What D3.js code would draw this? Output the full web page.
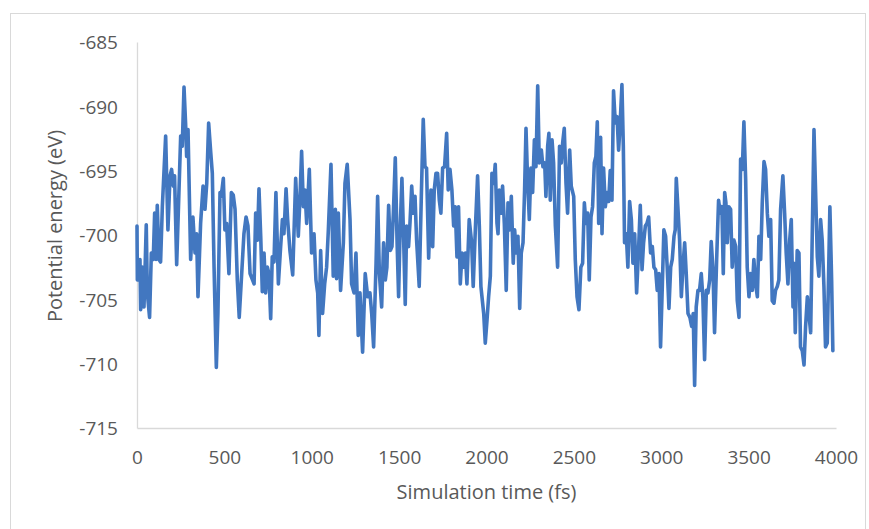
<!DOCTYPE html>
<html>
<head>
<meta charset="utf-8">
<script src="https://cdn.jsdelivr.net/npm/d3@7"></script>
<style>
  body { margin: 0; background: #fff; }
  svg { display: block; }
</style>
</head>
<body>
<div></div>
<script>
// simulation time (fs) at each corner of the trace
const times = [
  0, 2, 17, 21, 30, 40, 53, 59, 72, 82, 93, 101, 109, 116, 126, 135, 145, 164, 177, 189,
  198, 208, 215, 227, 250, 259, 269, 278, 284, 292, 307, 320, 332, 341, 349, 364, 378, 389, 399, 410,
  422, 431, 441, 454, 463, 475, 482, 494, 503, 513, 526, 540, 551, 561, 574, 585, 597, 612, 624, 635,
  647, 670, 679, 689, 698, 708, 717, 727, 736, 746, 755, 765, 774, 784, 795, 809, 822, 832, 841, 853,
  862, 875, 891, 908, 923, 933, 942, 952, 961, 971, 986, 999, 1013, 1024, 1034, 1041, 1051, 1062, 1074, 1085,
  1095, 1110, 1123, 1135, 1142, 1152, 1165, 1181, 1190, 1203, 1219, 1228, 1242, 1253, 1266, 1276, 1291, 1306, 1320, 1333,
  1343, 1354, 1368, 1377, 1387, 1400, 1411, 1421, 1430, 1440, 1450, 1459, 1467, 1478, 1488, 1497, 1505, 1516, 1526, 1535,
  1543, 1554, 1562, 1572, 1581, 1591, 1600, 1615, 1627, 1638, 1648, 1657, 1669, 1682, 1692, 1701, 1711, 1720, 1730, 1739,
  1749, 1760, 1772, 1781, 1791, 1802, 1812, 1821, 1831, 1840, 1850, 1860, 1869, 1879, 1888, 1901, 1915, 1924, 1936, 1949,
  1959, 1968, 1984, 1993, 2003, 2012, 2022, 2031, 2041, 2050, 2060, 2066, 2073, 2083, 2092, 2102, 2113, 2123, 2132, 2142,
  2153, 2161, 2171, 2180, 2190, 2199, 2209, 2218, 2226, 2235, 2245, 2254, 2264, 2274, 2283, 2293, 2302, 2314, 2323, 2333,
  2340, 2350, 2357, 2365, 2375, 2384, 2394, 2407, 2418, 2428, 2436, 2445, 2455, 2464, 2476, 2485, 2499, 2508, 2518, 2529,
  2540, 2550, 2560, 2569, 2579, 2588, 2598, 2607, 2617, 2626, 2634, 2642, 2653, 2661, 2670, 2680, 2689, 2699, 2708, 2718,
  2727, 2737, 2747, 2756, 2766, 2775, 2783, 2790, 2800, 2809, 2819, 2829, 2838, 2848, 2859, 2870, 2880, 2890, 2899, 2909,
  2918, 2928, 2939, 2949, 2958, 2968, 2977, 2987, 2996, 3006, 3015, 3025, 3034, 3044, 3054, 3063, 3073, 3080, 3086, 3095,
  3105, 3115, 3124, 3134, 3143, 3153, 3164, 3174, 3183, 3191, 3200, 3210, 3219, 3229, 3238, 3248, 3258, 3267, 3277, 3286,
  3296, 3305, 3317, 3328, 3338, 3347, 3355, 3363, 3370, 3378, 3386, 3397, 3406, 3416, 3426, 3435, 3445, 3454, 3464, 3473,
  3483, 3492, 3502, 3511, 3521, 3530, 3540, 3550, 3559, 3569, 3578, 3588, 3597, 3607, 3616, 3626, 3635, 3645, 3654, 3664,
  3673, 3683, 3696, 3706, 3715, 3725, 3735, 3744, 3754, 3759, 3767, 3778, 3788, 3797, 3807, 3817, 3826, 3836, 3845, 3855,
  3864, 3874, 3883, 3893, 3902, 3912, 3921, 3931, 3940, 3950, 3965, 3975, 3982
];

// potential energy (eV)
const energies = [
  -699.3, -703.5, -701.9, -705.8, -702.5, -705.6, -699.2, -704.5, -706.4, -701.4, -701.9, -698.3, -701.9, -697.7, -701.9, -702.1, -697.8, -692.3, -699.6, -695.4,
  -694.9, -696.2, -695.4, -702.3, -692.3, -693.1, -688.5, -691.3, -693.9, -691.8, -701.9, -698.6, -701.4, -699.9, -704.8, -699.1, -696.2, -698.0, -696.0, -691.3,
  -693.6, -695.2, -702.5, -710.3, -706.1, -696.7, -697.0, -695.6, -699.6, -699.1, -703.0, -696.7, -696.9, -698.0, -703.5, -706.4, -703.5, -699.9, -698.6, -699.3,
  -703.0, -703.8, -698.3, -700.4, -696.4, -700.1, -704.4, -701.4, -704.5, -702.5, -703.0, -706.5, -701.7, -702.1, -696.7, -703.8, -700.9, -698.8, -699.9, -696.4,
  -698.8, -701.2, -703.1, -695.6, -700.1, -697.0, -693.5, -697.8, -696.5, -699.1, -694.9, -701.4, -699.9, -703.5, -704.5, -707.8, -701.2, -706.1, -703.8, -702.5,
  -699.6, -694.5, -703.2, -698.0, -703.4, -698.3, -704.3, -700.6, -696.0, -694.5, -698.8, -703.8, -704.5, -701.4, -707.8, -704.5, -709.1, -703.0, -704.8, -704.5,
  -706.1, -708.7, -702.2, -697.0, -703.0, -705.6, -700.6, -703.5, -702.5, -697.7, -701.2, -700.9, -698.3, -694.0, -700.4, -704.8, -699.9, -695.6, -700.4, -705.4,
  -699.3, -700.9, -699.1, -696.2, -698.3, -697.0, -700.4, -704.0, -697.0, -691.0, -694.7, -694.8, -701.8, -696.5, -700.9, -696.5, -695.2, -695.2, -697.3, -698.3,
  -694.8, -694.7, -692.1, -696.5, -694.9, -696.5, -699.3, -697.8, -701.7, -697.8, -703.8, -701.4, -702.5, -701.4, -703.8, -698.8, -700.6, -704.0, -699.6, -695.4,
  -699.3, -704.0, -706.1, -708.4, -706.6, -704.8, -703.2, -695.2, -696.0, -694.5, -699.1, -699.9, -696.5, -698.3, -696.2, -699.1, -704.3, -697.5, -699.6, -697.0,
  -702.2, -699.6, -701.4, -700.1, -705.7, -701.4, -700.6, -696.5, -691.7, -695.7, -698.8, -694.8, -696.7, -692.6, -694.7, -688.4, -694.4, -693.4, -694.7, -694.4,
  -697.0, -693.1, -692.1, -697.3, -692.6, -694.4, -699.3, -702.5, -693.1, -694.4, -692.8, -691.7, -696.0, -698.3, -693.4, -696.2, -697.0, -701.9, -704.8, -705.8,
  -702.5, -702.2, -697.5, -699.1, -698.3, -703.5, -698.6, -697.8, -694.4, -693.9, -691.2, -699.1, -692.4, -699.9, -694.8, -697.8, -696.7, -697.4, -695.0, -697.3,
  -688.8, -691.3, -690.8, -693.4, -691.0, -688.3, -693.1, -700.6, -699.9, -702.5, -697.4, -698.8, -702.2, -699.9, -704.5, -701.2, -697.7, -702.7, -700.6, -699.3,
  -699.1, -698.6, -701.4, -700.9, -702.5, -702.7, -704.3, -703.0, -708.7, -704.0, -699.6, -700.1, -702.5, -705.7, -702.5, -701.9, -700.1, -699.6, -695.6, -697.8,
  -700.4, -704.8, -702.5, -700.6, -703.0, -706.1, -706.4, -707.1, -706.1, -711.7, -705.6, -704.3, -704.3, -703.0, -704.8, -709.7, -704.3, -704.5, -703.5, -700.5,
  -702.7, -707.6, -701.9, -697.3, -698.3, -697.8, -703.0, -696.7, -697.5, -700.6, -697.8, -698.0, -702.5, -700.4, -700.9, -705.1, -706.4, -694.1, -694.9, -691.2,
  -695.7, -702.5, -704.8, -703.0, -704.3, -701.9, -703.8, -704.8, -700.1, -701.9, -697.5, -694.3, -694.9, -698.3, -700.1, -698.8, -705.1, -705.3, -704.3, -704.0,
  -703.5, -698.0, -695.4, -698.3, -701.4, -703.8, -700.4, -698.8, -705.6, -702.2, -707.6, -701.2, -701.4, -708.7, -709.0, -710.1, -707.1, -704.8, -706.1, -707.6,
  -700.1, -691.8, -696.5, -701.7, -703.2, -698.8, -700.4, -704.0, -708.7, -708.4, -697.8, -703.5, -709.0
];

const xTicks = [0, 500, 1000, 1500, 2000, 2500, 3000, 3500, 4000];
const yTicks = [-715, -710, -705, -700, -695, -690, -685];
const xTitle = 'Simulation time (fs)';
const yTitle = 'Potential energy (eV)';

const svgWidth = 869,
  svgHeight = 529;
const plot = { left: 137, right: 836, top: 42, bottom: 428 };
const textColor = '#595959',
  axisColor = '#d9d9d9',
  lineColor = '#4277c0';
const font = '"Open Sans", "Liberation Sans", sans-serif';

const xScale = d3.scaleLinear()
  .domain([0, 4000])
  .range([plot.left, plot.right]);

const yScale = d3.scaleLinear()
  .domain([-715, -685])
  .range([plot.bottom, plot.top]);

const svg = d3.select('body')
  .select('div')
  .append('svg')
  .attr('width', svgWidth)
  .attr('height', svgHeight);

svg.append('rect')
  .attr('width', svgWidth)
  .attr('height', svgHeight)
  .attr('fill', '#fff');

// chart area border
svg.append('rect')
  .attr('x', 10.5)
  .attr('y', 13.5)
  .attr('width', 855)
  .attr('height', 530)
  .attr('fill', 'none')
  .attr('stroke', axisColor)
  .attr('stroke-width', 1);

const xAxis = d3.axisBottom(xScale)
  .tickValues(xTicks)
  .tickSize(0)
  .tickPadding(23)
  .tickFormat(d3.format('d'));

const yAxis = d3.axisLeft(yScale)
  .tickValues(yTicks)
  .tickSize(0)
  .tickPadding(19)
  .tickFormat(d => String(d));

const gx = svg.append('g')
  .attr('id', 'x-axis')
  .attr('transform', `translate(0, ${plot.bottom})`)
  .call(xAxis);

const gy = svg.append('g')
  .attr('id', 'y-axis')
  .attr('transform', `translate(${plot.left}, 0)`)
  .call(yAxis);

[gx, gy].forEach(g => {
  g.select('.domain').attr('stroke', axisColor).attr('stroke-width', 1.3);
  g.selectAll('text')
    .attr('fill', textColor)
    .style('font-family', font)
    .style('font-size', '19px');
});
gy.selectAll('text').attr('dy', '0.36em');

const line = d3.line()
  .x((d, i) => xScale(times[i]))
  .y(d => yScale(d));

svg.append('path')
  .datum(energies)
  .attr('d', line)
  .attr('fill', 'none')
  .attr('stroke', lineColor)
  .attr('stroke-width', 3.6)
  .attr('stroke-linejoin', 'round')
  .attr('stroke-linecap', 'round');

svg.append('text')
  .attr('x', (plot.left + plot.right) / 2)
  .attr('y', 499)
  .attr('text-anchor', 'middle')
  .attr('fill', textColor)
  .style('font-family', font)
  .style('font-size', '20px')
  .text(xTitle);

svg.append('text')
  .attr('transform', `translate(62, 226) rotate(-90)`)
  .attr('text-anchor', 'middle')
  .attr('fill', textColor)
  .style('font-family', font)
  .style('font-size', '20px')
  .text(yTitle);
</script>
</body>
</html>
